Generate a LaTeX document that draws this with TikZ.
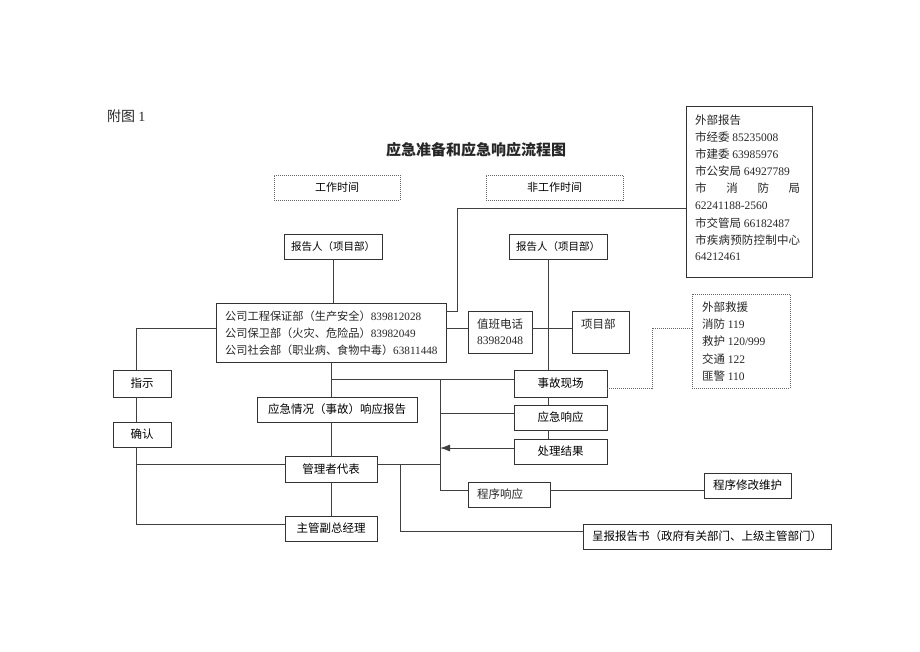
\documentclass[tikz,border=0pt]{standalone}
\usepackage{fontspec}
\setmainfont{Noto Sans CJK SC}
\newfontfamily\lat{Liberation Serif}
\newcommand\dg[1]{{\lat #1}}
\usetikzlibrary{arrows.meta}
\begin{document}
\begin{tikzpicture}[x=1pt,y=-1pt,
  font=\fontsize{11.5}{13}\selectfont,
  box/.style={draw=black!80, line width=0.9pt, inner sep=0pt},
  dotbox/.style={draw=black!60, line width=0.8pt, dash pattern=on 1pt off 1pt, inner sep=0pt},
  ln/.style={draw=black!75, line width=0.9pt},
  dln/.style={draw=black!60, line width=0.8pt, dash pattern=on 1pt off 1pt},
  txt/.style={inner sep=0pt, anchor=west, text=black!85},
  ctxt/.style={inner sep=0pt, text=black!85}]
\useasboundingbox (0,0) rectangle (920,651);

% heading
\node[txt, font=\fontsize{14}{16}\selectfont] (fig) at (107,116) {附图 \dg{1}};
\node[ctxt, font=\fontsize{15}{17}\selectfont\bfseries] (title) at (476,150) {应急准备和应急响应流程图};

% time boxes
\node[dotbox, minimum width=126pt, minimum height=25pt, font=\fontsize{11}{13}\selectfont] (work) at (337,187.5) {工作时间};
\node[dotbox, minimum width=137pt, minimum height=25pt, font=\fontsize{11}{13}\selectfont] (nonwork) at (554.5,187.5) {非工作时间};

% reporters
\node[box, minimum width=98pt, minimum height=25pt, font=\fontsize{10.5}{12}\selectfont] (rep1) at (333,246.5) {报告人（项目部）};
\node[box, minimum width=98pt, minimum height=25pt, font=\fontsize{10.5}{12}\selectfont] (rep2) at (558,246.5) {报告人（项目部）};

% external report
\node[box, minimum width=126pt, minimum height=171pt] (ext) at (749,191.5) {};
\node[txt] (e1) at (695,120) {外部报告};
\node[txt] (e2) at (695,137.1) {市经委 \dg{85235008}};
\node[txt] (e3) at (695,154.2) {市建委 \dg{63985976}};
\node[txt] (e4) at (695,171.3) {市公安局 \dg{64927789}};
\node[txt] (e5) at (695,188.4) {\makebox[105pt][s]{市\hfill 消\hfill 防\hfill 局}};
\node[txt] (e6) at (695,205.5) {\dg{62241188-2560}};
\node[txt] (e7) at (695,222.6) {市交管局 \dg{66182487}};
\node[txt] (e8) at (695,239.7) {\makebox[105pt][s]{市\hfill 疾\hfill 病\hfill 预\hfill 防\hfill 控\hfill 制\hfill 中\hfill 心}};
\node[txt] (e9) at (695,256.8) {\dg{64212461}};

% company
\node[box, minimum width=230pt, minimum height=59pt] (comp) at (331,332.5) {};
\begin{scope}[font=\fontsize{11.2}{13}\selectfont]
\node[txt] (c1) at (225,316) {公司工程保证部（生产安全）\dg{839812028}};
\node[txt] (c2) at (225,333) {公司保卫部（火灾、危险品）\dg{83982049}};
\node[txt] (c3) at (225,350) {公司社会部（职业病、食物中毒）\dg{63811448}};
\end{scope}

% duty phone & project dept
\node[box, minimum width=64pt, minimum height=42pt] (duty) at (500,332) {};
\node[ctxt] (d1) at (500,324) {值班电话};
\node[ctxt] (d2) at (500,341) {\dg{83982048}};
\node[box, minimum width=57pt, minimum height=42pt] (proj) at (600.5,332) {};
\node[txt] (p1) at (581,324) {项目部};

% left column
\node[box, minimum width=58pt, minimum height=27pt] (zhishi) at (142,383.5) {指示};
\node[box, minimum width=58pt, minimum height=25pt] (queren) at (142,434.5) {确认};

% middle column
\node[box, minimum width=160pt, minimum height=25pt] (yjqk) at (337,409.5) {应急情况（事故）响应报告};
\node[box, minimum width=92pt, minimum height=26pt] (glz) at (331,469) {管理者代表};
\node[box, minimum width=92pt, minimum height=25pt] (zg) at (331,528.5) {主管副总经理};

% right column
\node[box, minimum width=93pt, minimum height=27pt] (sgxc) at (560.5,383.5) {事故现场};
\node[box, minimum width=93pt, minimum height=25pt] (yjxy) at (560.5,417.5) {应急响应};
\node[box, minimum width=93pt, minimum height=25pt] (cljg) at (560.5,451.5) {处理结果};

% external rescue
\node[dotbox, minimum width=98pt, minimum height=94pt] (wbjy) at (741,341) {};
\node[txt] (w1) at (702,307) {外部救援};
\node[txt] (w2) at (702,324.2) {消防 \dg{119}};
\node[txt] (w3) at (702,341.4) {救护 \dg{120/999}};
\node[txt] (w4) at (702,358.6) {交通 \dg{122}};
\node[txt] (w5) at (702,375.8) {匪警 \dg{110}};

% procedure
\node[box, minimum width=82pt, minimum height=25pt] (cxxy) at (509,494.5) {};
\node[txt] (cx1) at (477,494.5) {程序响应};
\node[box, minimum width=87pt, minimum height=25pt] (cxxg) at (747.5,485.5) {程序修改维护};
\node[box, minimum width=248pt, minimum height=25pt] (cb) at (707,536.5) {呈报报告书（政府有关部门、上级主管部门）};

% helper coordinates
\coordinate (ya) at (0,208);
\coordinate (ca) at (457,208);
\coordinate (cb2) at (457,311);
\coordinate (r328) at (0,328);
\coordinate (lx) at (136,0);
\coordinate (mx) at (331,0);
\coordinate (vx) at (548,0);
\coordinate (bx) at (440,0);
\coordinate (y379) at (0,379);
\coordinate (y413) at (0,413);
\coordinate (y448) at (0,448);
\coordinate (y464) at (0,464);
\coordinate (y490) at (0,490);
\coordinate (y491) at (0,490.5);
\coordinate (y524) at (0,524);
\coordinate (y531) at (0,531);
\coordinate (y388) at (0,388);
\coordinate (dx) at (652,0);
\coordinate (sx) at (400,0);

% connectors
\draw[ln] (rep1.south) -- (rep1.south |- comp.north);
\draw[ln] (ext.west |- ya) -- (ca) -- (cb2) -- (comp.east |- cb2);
\draw[ln] (comp.east |- r328) -- (duty.west |- r328);
\draw[ln] (duty.east |- r328) -- (proj.west |- r328);
\draw[ln] (rep2.south -| vx) -- (sgxc.north -| vx);
\draw[ln] (sgxc.south -| vx) -- (yjxy.north -| vx);
\draw[ln] (yjxy.south -| vx) -- (cljg.north -| vx);
\draw[ln] (comp.west |- r328) -- (lx |- r328) -- (zhishi.north -| lx);
\draw[ln] (zhishi.south -| lx) -- (queren.north -| lx);
\draw[ln] (queren.south -| lx) -- (lx |- y524) -- (zg.west |- y524);
\draw[ln] (lx |- y464) -- (glz.west |- y464);
\draw[ln] (comp.south -| mx) -- (yjqk.north -| mx);
\draw[ln] (yjqk.south -| mx) -- (glz.north -| mx);
\draw[ln] (glz.south -| mx) -- (zg.north -| mx);
\draw[ln] (mx |- y379) -- (sgxc.west |- y379);
\draw[ln] (bx |- y379) -- (bx |- y490) -- (cxxy.west |- y490);
\draw[ln] (bx |- y413) -- (yjxy.west |- y413);
\draw[ln, -{Latex[length=10pt,width=7pt]}] (cljg.west |- y448) -- (bx |- y448);
\draw[ln] (glz.east |- y464) -- (bx |- y464);
\draw[ln] (sx |- y464) -- (sx |- y531) -- (cb.west |- y531);
\draw[ln] (cxxy.east |- y491) -- (cxxg.west |- y491);
\draw[dln] (sgxc.east |- y388) -- (dx |- y388) -- (dx |- r328) -- (wbjy.west |- r328);
\end{tikzpicture}
\end{document}
